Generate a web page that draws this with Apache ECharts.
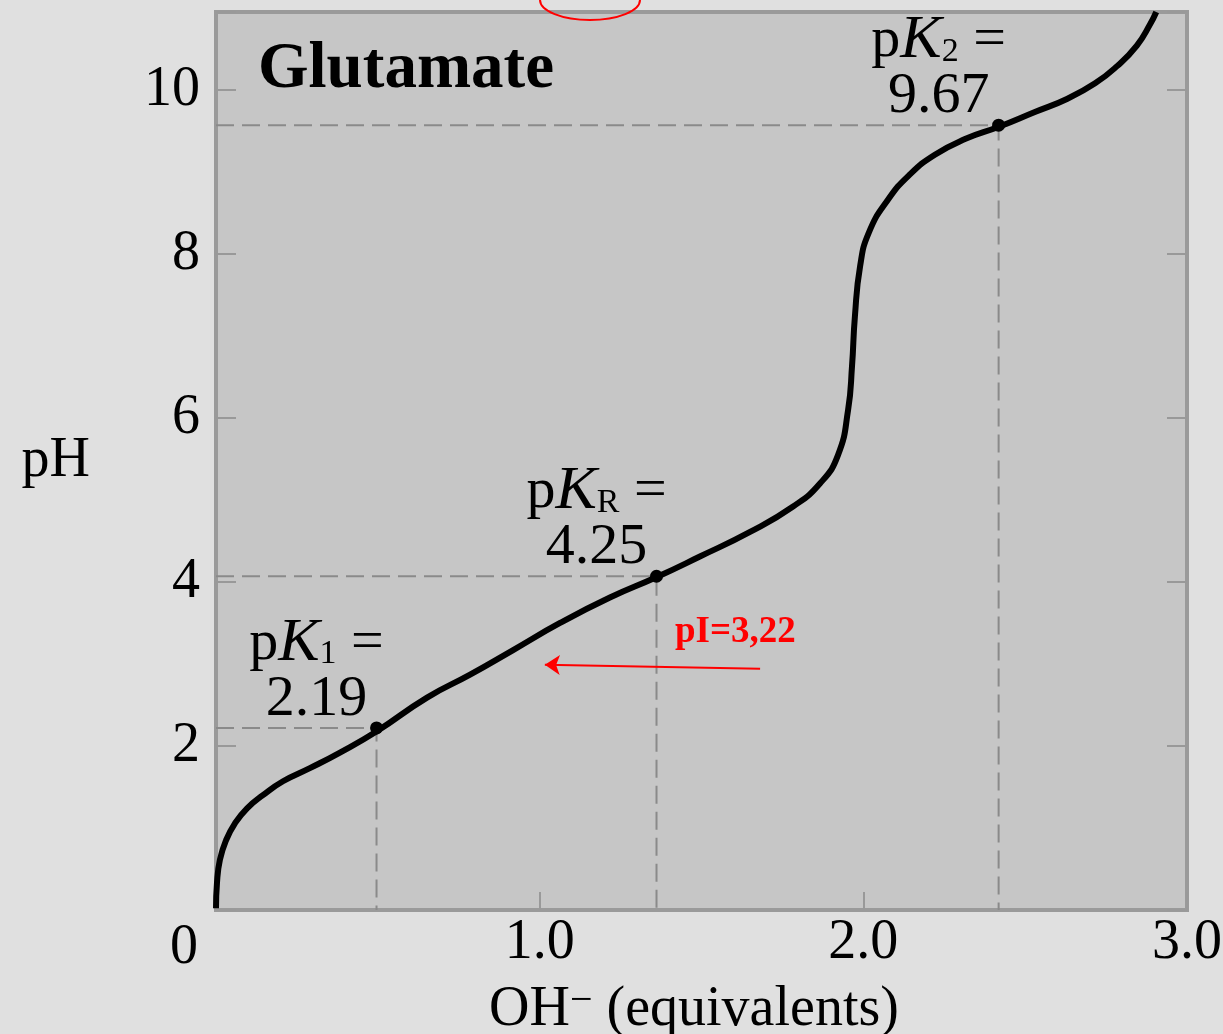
<!DOCTYPE html>
<html>
<head>
<meta charset="utf-8">
<script src="https://cdn.jsdelivr.net/npm/echarts@6/dist/echarts.min.js"></script>
<style>
  html, body { margin: 0; padding: 0; background: #e0e0e0; }
  #chart { width: 1223px; height: 1034px; }
</style>
</head>
<body>
<div id="chart"></div>
<script>
// ---- data ----
const eqValues = [0, 0.003, 0.012, 0.031, 0.059, 0.096, 0.145, 0.207, 0.29, 0.383, 0.497,
  0.652, 0.785, 0.918, 1.063, 1.217, 1.362, 1.495, 1.65, 1.783, 1.866, 1.922, 1.953, 1.965,
  1.974, 1.99, 2.017, 2.076, 2.144, 2.221, 2.314, 2.419, 2.53, 2.629, 2.716, 2.784, 2.845,
  2.886, 2.905];
const pHValues = [0.02, 0.33, 0.61, 0.85, 1.06, 1.24, 1.40, 1.57, 1.73, 1.92, 2.18,
  2.59, 2.87, 3.17, 3.50, 3.81, 4.06, 4.31, 4.61, 4.92, 5.20, 5.55, 6.10, 6.63,
  7.24, 7.85, 8.26, 8.66, 8.97, 9.21, 9.40, 9.55, 9.73, 9.89, 10.08, 10.29, 10.54,
  10.80, 10.95];

const pKSubs = ['1', 'R', '2'];
const pKLabels = ['2.19', '4.25', '9.67'];
const pKEq = [0.496, 1.361, 2.418];
const pKpH = [2.22, 4.07, 9.57];

const xTickLabels = ['0', '1.0', '2.0', '3.0'];
const yTickLabels = ['2', '4', '6', '8', '10'];

const pIText = 'pI=3,22';
const pIPos = [1.418, 3.386];
const arrowFrom = [1.681, 2.941];
const arrowTo = [1.016, 2.99];

const SERIF = '"Liberation Serif", "Times New Roman", serif';
const FS = 56;
const INK = '#000';

const curve = eqValues.map((x, i) => [x, pHValues[i]]);

const dashedSeries = pKEq.map((x, i) => ({
  type: 'line',
  data: [[0, pKpH[i]], [x, pKpH[i]], [x, 0]],
  symbol: 'none',
  silent: true,
  lineStyle: { color: '#8a8a8a', width: 2, type: [18, 8] },
  animation: false
}));

const labelRich = {
  n: { fontFamily: SERIF, fontSize: 58, lineHeight: 56, color: INK },
  i: { fontFamily: SERIF, fontSize: 62, lineHeight: 56, color: INK, fontStyle: 'italic' },
  s: { fontFamily: SERIF, fontSize: 34, lineHeight: 30, color: INK, verticalAlign: 'bottom' }
};

const option = {
  backgroundColor: '#e0e0e0',
  animation: false,
  grid: {
    left: 216, right: 36, top: 12, bottom: 124,
    show: true, backgroundColor: '#c6c6c6', borderColor: '#9a9a9a', borderWidth: 4,
    outerBoundsMode: 'none'
  },
  xAxis: {
    type: 'value', min: 0, max: 3, interval: 1,
    axisLine: { show: false },
    splitLine: { show: false },
    axisTick: { show: true, inside: true, length: 18, lineStyle: { color: '#999', width: 2 } },
    axisLabel: {
      margin: 5, fontFamily: SERIF, fontSize: FS, lineHeight: 56, color: INK,
      formatter: v => {
        const s = xTickLabels[Math.round(v)];
        return Math.round(v) === 0 ? '{z|' + s + '}' : s;
      },
      rich: { z: { fontFamily: SERIF, fontSize: FS, lineHeight: 56, color: INK, padding: [11, 64, 0, 0] } }
    },
    name: '{n|OH}{sup|\u2212}{n| (equivalents)}',
    nameLocation: 'middle',
    nameGap: 70,
    nameTextStyle: {
      padding: [0, 15, 0, 0],
      rich: {
        n: { fontFamily: SERIF, fontSize: FS, lineHeight: 57, color: INK },
        sup: { fontFamily: SERIF, fontSize: 40, lineHeight: 14, color: INK, verticalAlign: 'top' }
      }
    }
  },
  yAxis: [{
    type: 'value', min: 0, max: 10.95, interval: 2,
    axisLine: { show: false },
    splitLine: { show: false },
    axisTick: { show: true, inside: true, length: 20, lineStyle: { color: '#999', width: 2 } },
    axisLabel: {
      margin: 16, fontFamily: SERIF, fontSize: FS, color: INK,
      formatter: v => {
        const k = yTickLabels.indexOf(String(v));
        return k >= 0 ? yTickLabels[k] : '';
      }
    },
    name: 'pH',
    nameLocation: 'middle',
    nameRotate: 0,
    nameGap: 126,
    nameTextStyle: { fontFamily: SERIF, fontSize: FS, color: INK }
  }, {
    type: 'value', min: 0, max: 10.95, interval: 2, position: 'right',
    axisLine: { show: false },
    splitLine: { show: false },
    axisLabel: { show: false },
    axisTick: { show: true, inside: true, length: 20, lineStyle: { color: '#999', width: 2 } }
  }],
  graphic: [
    {
      type: 'text', left: 258, top: 38, silent: true,
      style: { text: 'Glutamate', font: 'bold 65px ' + SERIF, fill: INK }
    },
    {
      type: 'ellipse', silent: true,
      shape: { cx: 590, cy: 0, rx: 50, ry: 20 },
      style: { fill: 'none', stroke: '#ff0000', lineWidth: 2 }
    }
  ],
  series: [
    ...dashedSeries,
    {
      type: 'line',
      data: curve,
      symbol: 'none',
      smooth: 0.5,
      silent: true,
      lineStyle: { color: '#000', width: 6 },
      z: 5
    },
    {
      type: 'scatter',
      data: pKEq.map((x, i) => ({ value: [x, pKpH[i]], name: pKSubs[i] })),
      symbol: 'circle',
      symbolSize: 13,
      itemStyle: { color: '#000', opacity: 1 },
      silent: true,
      z: 6,
      label: {
        show: true,
        position: 'top',
        distance: 0,
        offset: [-60, 6],
        align: 'center',
        opacity: 1,
        formatter: p => '{n|p}{i|K}{s|' + pKSubs[p.dataIndex] + '}{n| =}\n{n|' + pKLabels[p.dataIndex] + '}',
        rich: labelRich
      }
    },
    {
      type: 'scatter',
      data: [pIPos],
      symbolSize: 0,
      silent: true,
      itemStyle: { color: '#ff0000', opacity: 1 },
      z: 7,
      label: {
        show: true, position: 'right', distance: 0, opacity: 1,
        formatter: pIText,
        fontFamily: SERIF, fontWeight: 'bold', fontSize: 37, color: '#ff0000'
      }
    },
    {
      type: 'line',
      data: [],
      silent: true,
      markLine: {
        silent: true,
        animation: false,
        symbol: ['none', 'arrow'],
        symbolSize: 15,
        label: { show: false },
        lineStyle: { color: '#ff0000', width: 2, type: 'solid', opacity: 1 },
        itemStyle: { color: '#ff0000' },
        emphasis: { disabled: true },
        data: [[{ coord: arrowFrom }, { coord: arrowTo }]]
      }
    }
  ]
};

const chart = echarts.init(document.getElementById('chart'), null, { renderer: 'canvas' });
chart.setOption(option);
</script>
</body>
</html>
